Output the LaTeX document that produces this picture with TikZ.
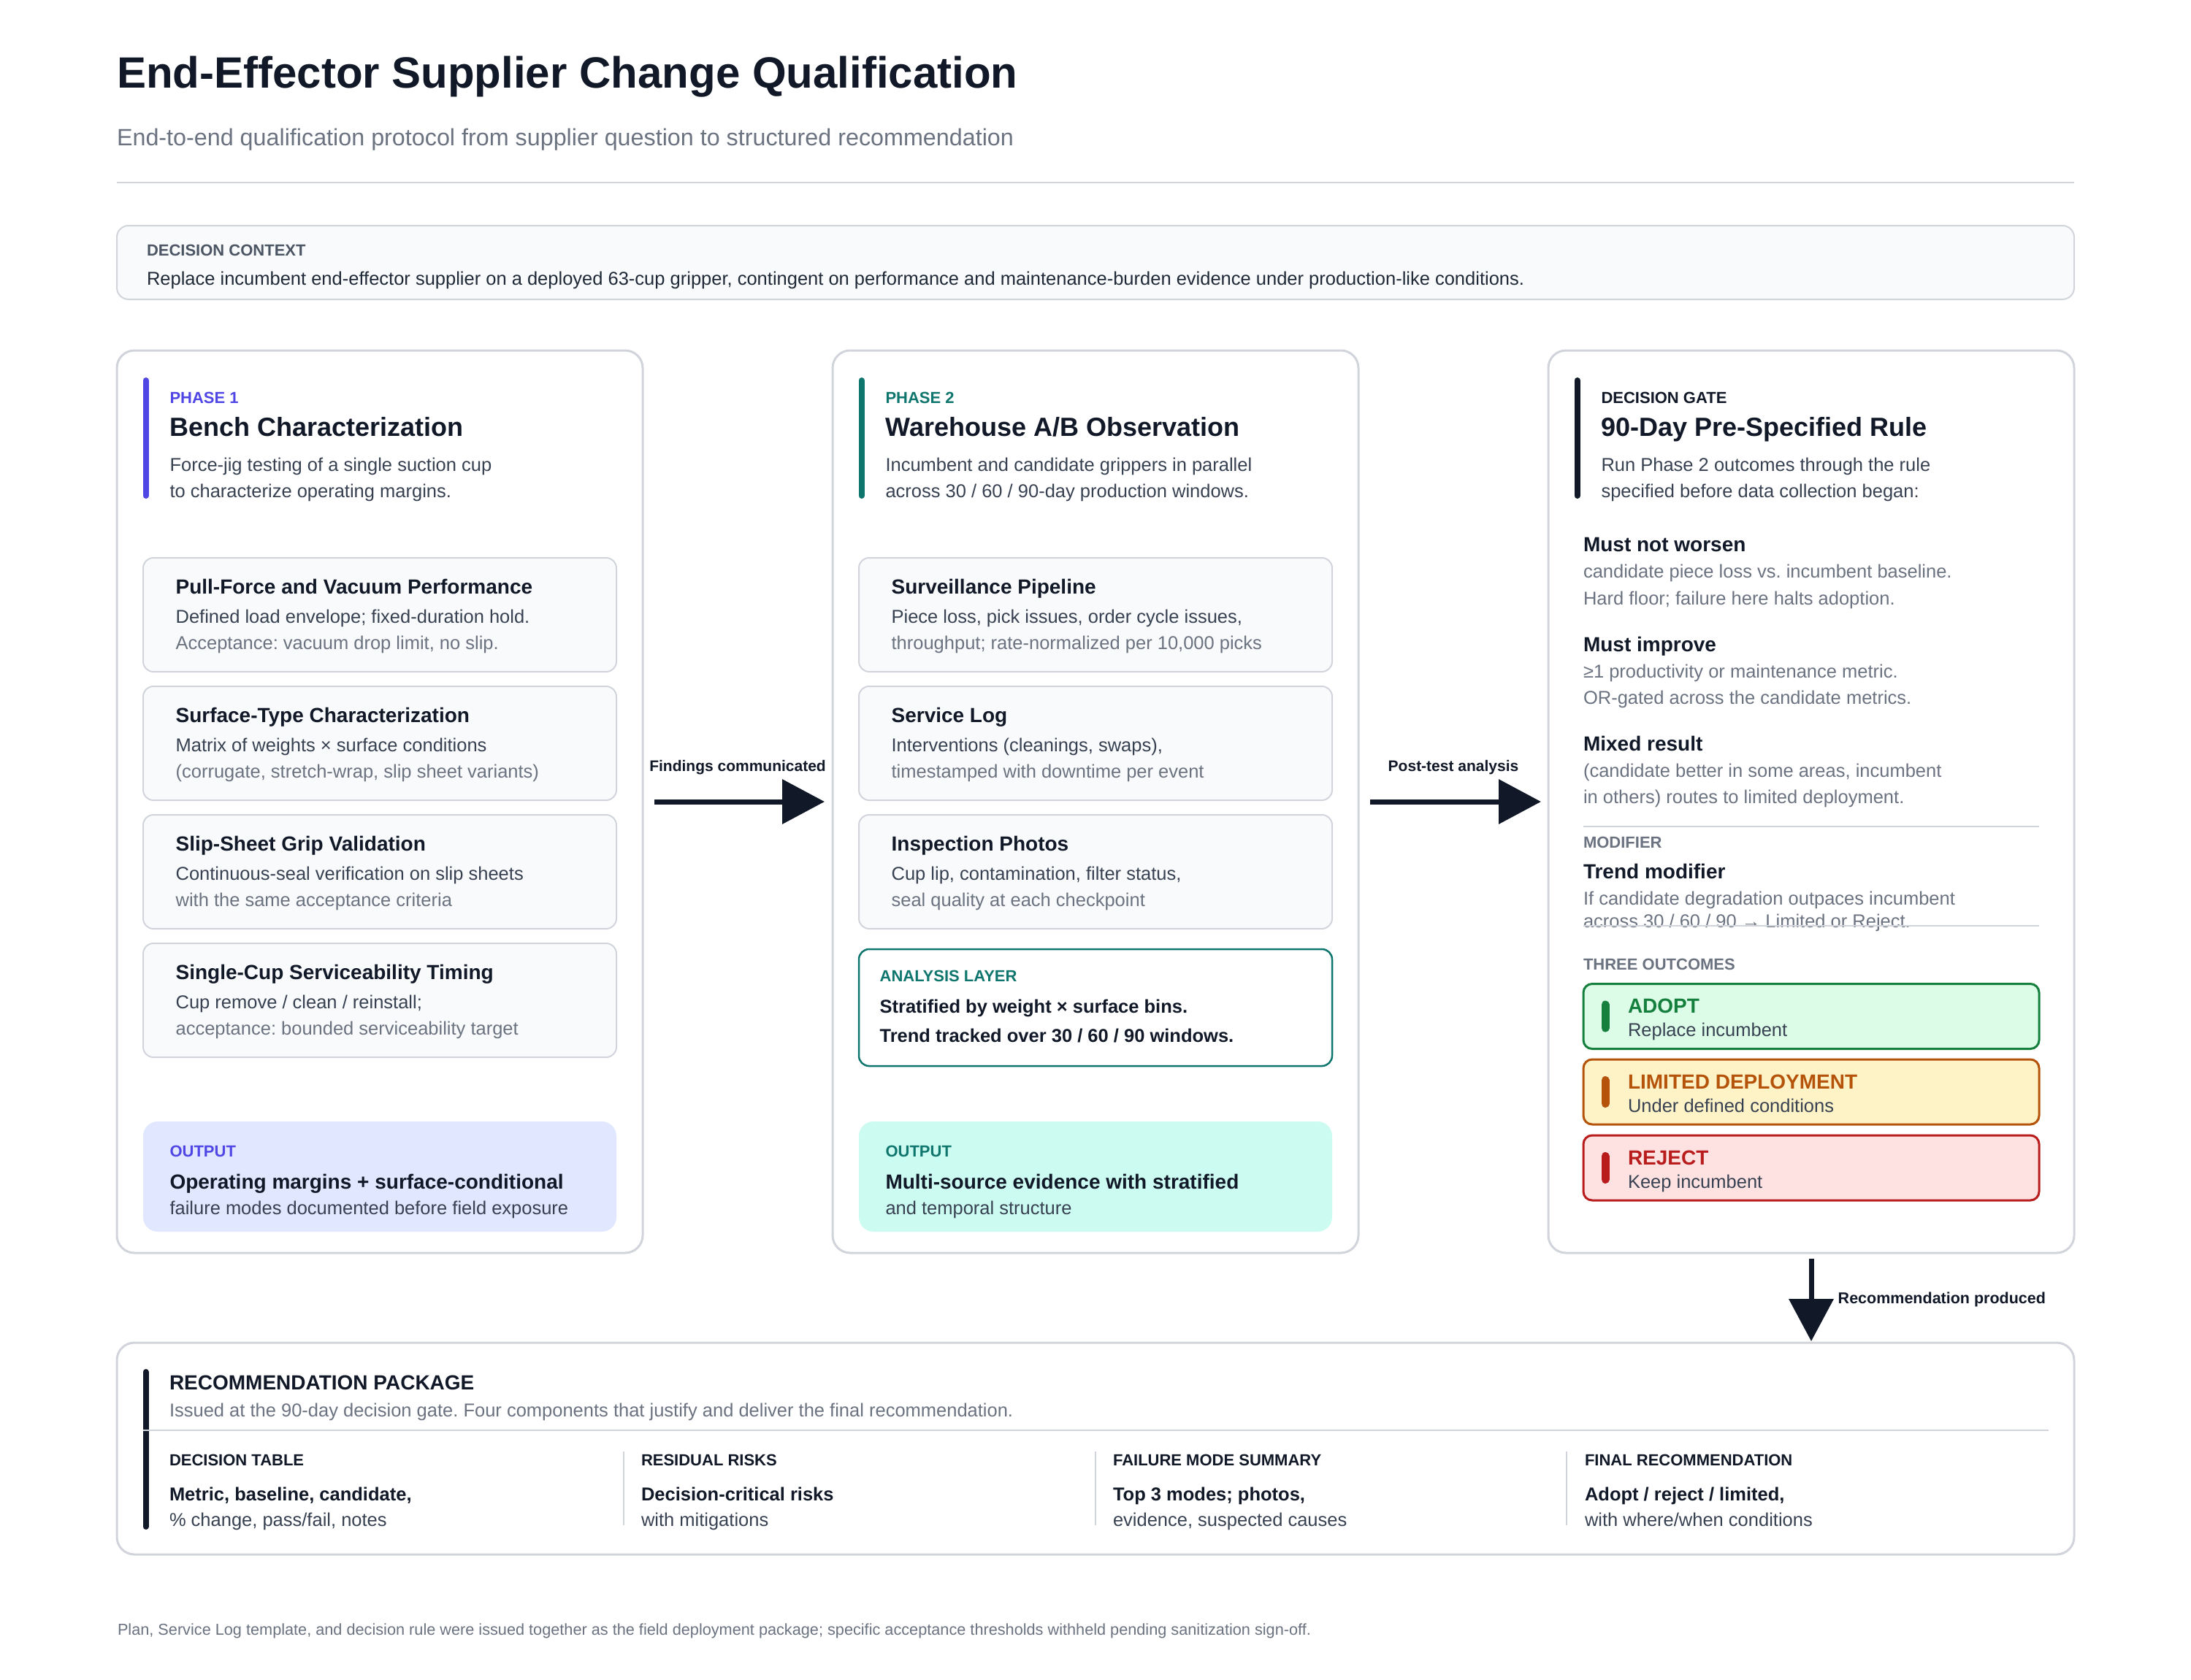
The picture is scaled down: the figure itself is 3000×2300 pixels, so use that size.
\documentclass[tikz,border=0pt]{standalone}
\usepackage{fontspec}
\setmainfont{Liberation Sans}
\usetikzlibrary{arrows.meta}
\frenchspacing
\definecolor{ink}{HTML}{111827}
\definecolor{inktwo}{HTML}{1F2937}
\definecolor{gsev}{HTML}{374151}
\definecolor{gsix}{HTML}{4B5563}
\definecolor{gfive}{HTML}{6B7280}
\definecolor{bord}{HTML}{D1D5DB}
\definecolor{boxf}{HTML}{F9FAFB}
\definecolor{indi}{HTML}{4F46E5}
\definecolor{indil}{HTML}{E0E7FF}
\definecolor{tealc}{HTML}{0F766E}
\definecolor{teall}{HTML}{CCFBF1}
\definecolor{grn}{HTML}{15803D}
\definecolor{grnl}{HTML}{DCFCE7}
\definecolor{amb}{HTML}{B45309}
\definecolor{ambl}{HTML}{FEF3C7}
\definecolor{rd}{HTML}{B91C1C}
\definecolor{rdl}{HTML}{FEE2E2}
\newcommand\myfs[1]{\fontsize{#1pt}{#1pt}\selectfont}
\tikzset{
  tx/.style={anchor=base west, inner sep=0pt, outer sep=0pt, text=ink},
  lbl/.style={tx, font=\myfs{22}\bfseries},
  ttl/.style={tx, font=\myfs{36}\bfseries},
  dsc/.style={tx, font=\myfs{25.5}, text=gsev},
  bt/.style={tx, font=\myfs{28}\bfseries},
  bd/.style={tx, font=\myfs{25.5}, text=gsev},
  mu/.style={tx, font=\myfs{25.5}, text=gfive},
  bb/.style={tx, font=\myfs{25.5}\bfseries},
  card/.style={draw=bord, line width=3pt, fill=white, rounded corners=24pt, inner sep=0pt, outer sep=0pt, anchor=north west, minimum width=720pt, minimum height=1236pt},
  subbox/.style={draw=bord, line width=2pt, fill=boxf, rounded corners=14pt, inner sep=0pt, outer sep=0pt, anchor=north west, minimum width=648pt, minimum height=156pt},
  outbox/.style={rounded corners=20pt, inner sep=0pt, outer sep=0pt, anchor=north west, minimum width=648pt, minimum height=151pt},
  accent/.style={line width=8pt, line cap=round},
  sep/.style={draw=bord, line width=2pt},
  bigarrow/.style={draw=ink, line width=7pt, -{Triangle[length=58pt,width=60pt]}},
  arrlbl/.style={anchor=base, inner sep=0pt, outer sep=0pt, text=ink, font=\myfs{21}\bfseries}
}
\newcommand\mysubbox[6]{%
  \node[subbox] (#1) at (#2,#3) {};
  \node[bt] (#1t) at (#2+44.6,#3+49) {#4};
  \node[bd] (#1a) at (#2+44.6,#3+89) {#5};
  \node[mu] (#1b) at (#2+44.6,#3+125) {#6};
}
\newcommand\myoutcome[6]{%
  \node[draw=#4, fill=#3, line width=3pt, rounded corners=12pt, minimum width=624pt, minimum height=89pt, anchor=north west, inner sep=0pt, outer sep=0pt] (#1) at (2168,#2) {};
  \draw[#4, line width=11pt, line cap=round] (2198,#2+28.5) -- (2198,#2+60.5);
  \node[tx, font=\myfs{28}\bfseries, text=#4] (#1l) at (2229,#2+40) {#5};
  \node[bd] (#1s) at (2229,#2+72) {#6};
}
\newcommand\myreccol[5]{%
  \node[tx, font=\myfs{22}\bfseries] (#1h) at (#2,2007) {#3};
  \node[bb] (#1a) at (#2,2055) {#4};
  \node[bd] (#1b) at (#2,2090.7) {#5};
}
\begin{document}
\begin{tikzpicture}[x=1pt,y=-1pt]
\useasboundingbox (0,0) rectangle (3000,2300);
\fill[white] (0,0) rectangle (3000,2300);

% title
\node[tx, font=\myfs{60}\bfseries] (title) at (160,120) {End-Effector Supplier Change Qualification};
\node[tx, font=\myfs{32.3}, text=gfive] (subtitle) at (160,199) {End-to-end qualification protocol from supplier question to structured recommendation};
\draw[sep] (160,250) -- (2840,250);

% decision context
\node[draw=bord, line width=2pt, fill=boxf, rounded corners=16pt, minimum width=2680pt, minimum height=101pt, anchor=north west, inner sep=0pt, outer sep=0pt] (ctx) at (160,309) {};
\node[tx, font=\myfs{22}\bfseries, text=gsix] (ctxl) at (201,350) {DECISION CONTEXT};
\node[tx, font=\myfs{25.5}, text=inktwo] (ctxt) at (201,390) {Replace incumbent end-effector supplier on a deployed 63-cup gripper, contingent on performance and maintenance-burden evidence under production-like conditions.};

% cards
\node[card] (c1) at (160,480) {};
\node[card] (c2) at (1140,480) {};
\node[card] (c3) at (2120,480) {};

% phase 1
\draw[accent, indi] (199.5,521) -- (199.5,679);
\node[lbl, text=indi] (p1l) at (232.5,552.5) {PHASE 1};
\node[ttl] (p1t) at (232.5,597) {Bench Characterization};
\node[dsc] (p1d1) at (232.5,645) {Force-jig testing of a single suction cup};
\node[dsc] (p1d2) at (232.5,681) {to characterize operating margins.};
\mysubbox{s11}{196}{764}{Pull-Force and Vacuum Performance}{Defined load envelope; fixed-duration hold.}{Acceptance: vacuum drop limit, no slip.}
\mysubbox{s12}{196}{940}{Surface-Type Characterization}{Matrix of weights × surface conditions}{(corrugate, stretch-wrap, slip sheet variants)}
\mysubbox{s13}{196}{1116}{Slip-Sheet Grip Validation}{Continuous-seal verification on slip sheets}{with the same acceptance criteria}
\mysubbox{s14}{196}{1292}{Single-Cup Serviceability Timing}{Cup remove / clean / reinstall;}{acceptance: bounded serviceability target}
\node[outbox, fill=indil] (o1) at (196,1536) {};
\node[lbl, text=indi] (o1l) at (232.5,1584) {OUTPUT};
\node[bt] (o1a) at (232.5,1628) {Operating margins + surface-conditional};
\node[bd] (o1b) at (232.5,1663) {failure modes documented before field exposure};

% phase 2
\draw[accent, tealc] (1179.5,521) -- (1179.5,679);
\node[lbl, text=tealc] (p2l) at (1212.5,552.5) {PHASE 2};
\node[ttl] (p2t) at (1212.5,597) {Warehouse A/B Observation};
\node[dsc] (p2d1) at (1212.5,645) {Incumbent and candidate grippers in parallel};
\node[dsc] (p2d2) at (1212.5,681) {across 30 / 60 / 90-day production windows.};
\mysubbox{s21}{1176}{764}{Surveillance Pipeline}{Piece loss, pick issues, order cycle issues,}{throughput; rate-normalized per 10,000 picks}
\mysubbox{s22}{1176}{940}{Service Log}{Interventions (cleanings, swaps),}{timestamped with downtime per event}
\mysubbox{s23}{1176}{1116}{Inspection Photos}{Cup lip, contamination, filter status,}{seal quality at each checkpoint}
\node[draw=tealc, line width=2.5pt, fill=white, rounded corners=14pt, inner sep=0pt, outer sep=0pt, anchor=north west, minimum width=648pt, minimum height=160pt] (an) at (1176,1300) {};
\node[lbl, text=tealc] (anl) at (1204.6,1344) {ANALYSIS LAYER};
\node[bb] (ana) at (1204.6,1387.5) {Stratified by weight × surface bins.};
\node[bb] (anb) at (1204.6,1427.5) {Trend tracked over 30 / 60 / 90 windows.};
\node[outbox, fill=teall] (o2) at (1176,1536) {};
\node[lbl, text=tealc] (o2l) at (1212.5,1584) {OUTPUT};
\node[bt] (o2a) at (1212.5,1628) {Multi-source evidence with stratified};
\node[bd] (o2b) at (1212.5,1663) {and temporal structure};

% decision gate
\draw[accent, ink] (2159.5,521) -- (2159.5,679);
\node[lbl] (p3l) at (2192.5,552.5) {DECISION GATE};
\node[ttl] (p3t) at (2192.5,597) {90-Day Pre-Specified Rule};
\node[dsc] (p3d1) at (2192.5,645) {Run Phase 2 outcomes through the rule};
\node[dsc] (p3d2) at (2192.5,681) {specified before data collection began:};
\node[bt] (r1) at (2168,755.7) {Must not worsen};
\node[mu] (r1a) at (2168,791.4) {candidate piece loss vs. incumbent baseline.};
\node[mu] (r1b) at (2168,828) {Hard floor; failure here halts adoption.};
\node[bt] (r2) at (2168,892) {Must improve};
\node[mu] (r2a) at (2168,928.5) {≥1 productivity or maintenance metric.};
\node[mu] (r2b) at (2168,964.6) {OR-gated across the candidate metrics.};
\node[bt] (r3) at (2168,1028) {Mixed result};
\node[mu] (r3a) at (2168,1064.6) {(candidate better in some areas, incumbent};
\node[mu] (r3b) at (2168,1100) {in others) routes to limited deployment.};
\draw[sep] (2168,1132) -- (2792,1132);
\node[lbl, text=gfive] (modl) at (2168,1161) {MODIFIER};
\node[bt] (mod) at (2168,1203.6) {Trend modifier};
\node[mu] (moda) at (2168,1239) {If candidate degradation outpaces incumbent};
\node[mu] (modb) at (2168,1270.7) {across 30 / 60 / 90 → Limited or Reject.};
\draw[sep] (2168,1268) -- (2792,1268);
\node[lbl, text=gfive] (outl) at (2168,1328) {THREE OUTCOMES};
\myoutcome{oa}{1347.5}{grnl}{grn}{ADOPT}{Replace incumbent}
\myoutcome{ob}{1451}{ambl}{amb}{LIMITED DEPLOYMENT}{Under defined conditions}
\myoutcome{oc}{1555}{rdl}{rd}{REJECT}{Keep incumbent}

% connectors
\draw[bigarrow] ([xshift=16pt]c1.east) -- ([xshift=-11pt]c2.west);
\node[arrlbl] (a1l) at (1010,1056.7) {Findings communicated};
\draw[bigarrow] ([xshift=16pt]c2.east) -- ([xshift=-10pt]c3.west);
\node[arrlbl] (a2l) at (1990,1056.7) {Post-test analysis};

% recommendation package
\node[draw=bord, line width=3pt, fill=white, rounded corners=24pt, inner sep=0pt, outer sep=0pt, anchor=north west, minimum width=2680pt, minimum height=290pt] (rec) at (160,1839) {};
\draw[bigarrow] ([yshift=-8pt]c3.south) -- ([yshift=2pt]rec.north -| c3.south);
\node[tx, font=\myfs{21.5}\bfseries] (a3l) at (2516.7,1785) {Recommendation produced};
\draw[accent, ink] (199.5,1879) -- (199.5,2091);
\node[tx, font=\myfs{28}\bfseries] (rect) at (232,1903) {RECOMMENDATION PACKAGE};
\node[mu] (recs) at (232,1940) {Issued at the 90-day decision gate. Four components that justify and deliver the final recommendation.};
\draw[sep] (196,1959) -- (2805,1959);
\draw[sep] (853.6,1988) -- (853.6,2089);
\draw[sep] (1500,1988) -- (1500,2089);
\draw[sep] (2145,1988) -- (2145,2089);
\myreccol{k1}{232}{DECISION TABLE}{Metric, baseline, candidate,}{\% change, pass/fail, notes}
\myreccol{k2}{878}{RESIDUAL RISKS}{Decision-critical risks}{with mitigations}
\myreccol{k3}{1524}{FAILURE MODE SUMMARY}{Top 3 modes; photos,}{evidence, suspected causes}
\myreccol{k4}{2170}{FINAL RECOMMENDATION}{Adopt / reject / limited,}{with where/when conditions}

% footer
\node[tx, font=\myfs{21.7}, text=gfive] (foot) at (161,2239) {Plan, Service Log template, and decision rule were issued together as the field deployment package; specific acceptance thresholds withheld pending sanitization sign-off.};
\end{tikzpicture}
\end{document}
